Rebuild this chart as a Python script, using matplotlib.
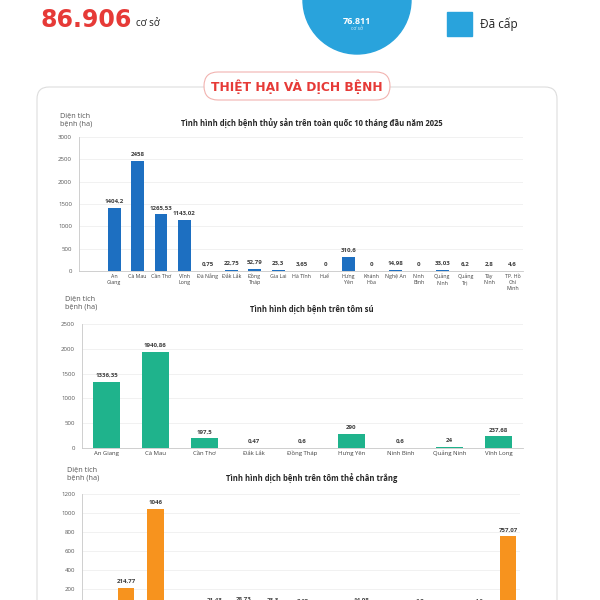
import matplotlib
matplotlib.use("Agg")
import matplotlib.pyplot as plt
from matplotlib import font_manager
from matplotlib.patches import Circle, FancyBboxPatch, Rectangle

plt.rcParams['font.family'] = ['Open Sans', 'DejaVu Sans']

# ---- data ----
total_coso = "86.906"
cap_coso = "76.811"

prov_all = ["An\nGiang", "Cà Mau", "Cần Thơ", "Vĩnh\nLong", "Đà Nẵng", "Đắk Lắk",
            "Đồng\nTháp", "Gia Lai", "Hà Tĩnh", "Huế", "Hưng\nYên", "Khánh\nHòa",
            "Nghệ An", "Ninh\nBình", "Quảng\nNinh", "Quảng\nTrị", "Tây\nNinh",
            "TP. Hồ\nChí\nMinh"]
val_all = [1404.2, 2458, 1265.53, 1143.02, 0.75, 22.75, 52.79, 23.3, 3.65, 0,
           310.6, 0, 14.98, 0, 33.03, 6.2, 2.8, 4.6]

prov_su = ["An Giang", "Cà Mau", "Cần Thơ", "Đắk Lắk", "Đồng Tháp", "Hưng Yên",
           "Ninh Bình", "Quảng Ninh", "Vĩnh Long"]
val_su = [1336.35, 1940.86, 197.5, 0.47, 0.6, 290, 0.6, 24, 237.68]

prov_the = ["An\nGiang", "Cà Mau", "Cần Thơ", "Đà\nNẵng", "Đắk\nLắk", "Đồng\nTháp",
            "Gia Lai", "Hà Tĩnh", "Khánh\nHòa", "Nghệ\nAn", "Quảng\nNinh", "Quảng\nTrị",
            "Tây\nNinh", "TP. Hồ\nChí Minh", "Vĩnh\nLong"]
val_the = [1.01, 214.77, 1046, 0.75, 21.43, 28.73, 23.3, 3.65, 0, 14.98, 0.03,
           6.2, 0.05, 4.6, 757.07]

# narrow font for the big number / header, if there is one
installed = {f.name for f in font_manager.fontManager.ttflist}
if 'Liberation Sans Narrow' in installed:
    narrow, big_size, head_size = ['Liberation Sans Narrow', 'DejaVu Sans'], 27, 10
else:
    narrow, big_size, head_size = ['DejaVu Sans'], 17, 8.8

W, H = 600, 600
fig = plt.figure(figsize=(6, 6), dpi=100)
fig.patch.set_facecolor('white')

# background layer in pixel coordinates
bg = fig.add_axes([0, 0, 1, 1])
bg.set_xlim(0, W)
bg.set_ylim(H, 0)
bg.axis('off')
bg.set_zorder(0)

red = '#e63a37'
sky = '#29a3dc'

bg.text(40, 27, total_coso, color=red, fontsize=big_size, fontweight='bold',
        family=narrow, ha='left', va='baseline')
bg.text(136, 26, "cơ sở", color='#222222', fontsize=7, ha='left', va='baseline')

bg.add_patch(Circle((357, 0), 54, color=sky, zorder=1))
bg.text(357, 21, cap_coso, color='white', fontsize=6.5, fontweight='bold',
        ha='center', va='center', zorder=2)
bg.text(357, 28, "cơ sở", color='#d8eef9', fontsize=3.5, ha='center', va='center', zorder=2)

bg.add_patch(Rectangle((447, 12), 25, 24, color=sky))
bg.text(480, 24, "Đã cấp", color='#222222', fontsize=8.5, ha='left', va='center')

# panel + header pill
bg.add_patch(FancyBboxPatch((37, 87), 520, 600, boxstyle='round,pad=0,rounding_size=12',
                            facecolor='white', edgecolor='#dddddd', linewidth=0.8))
bg.add_patch(FancyBboxPatch((204, 72), 186, 28, boxstyle='round,pad=0,rounding_size=14',
                            facecolor='white', edgecolor='#f2b3b0', linewidth=0.8))
bg.text(297, 87, "THIỆT HẠI VÀ DỊCH BỆNH", color=red, fontsize=head_size,
        fontweight='bold', ha='center', va='center', family=narrow)


def fmt(v):
    return f"{v:g}".replace('.', ',')


def bar_chart(l, t, r, b, cats, vals, color, ymax, ystep, xlim, title, title_y,
              ylab_xy, xfs=4.3, width=0.55):
    ax = fig.add_axes([l / W, 1 - b / H, (r - l) / W, (b - t) / H])
    ax.set_zorder(2)
    ax.patch.set_alpha(0)
    x = list(range(len(cats)))
    ax.bar(x, vals, width=width, color=color, zorder=3)
    for xi, v in zip(x, vals):
        ax.text(xi, v + ymax * 0.03, fmt(v), ha='center', va='bottom', fontsize=4.4,
                fontweight='bold', color='#404040', zorder=4)
    ax.set_ylim(0, ymax)
    ax.set_xlim(*xlim)
    ax.set_yticks(range(0, ymax + 1, ystep))
    ax.set_xticks(x)
    ax.set_xticklabels(cats, fontsize=xfs, color='#404040', linespacing=1.3)
    ax.tick_params(axis='y', labelsize=4.4, labelcolor='#595959', length=0, pad=5)
    ax.tick_params(axis='x', length=0, pad=2)
    ax.grid(axis='y', color='#ececec', linewidth=0.5, zorder=0)
    for s in ['top', 'right']:
        ax.spines[s].set_visible(False)
    for s in ['left', 'bottom']:
        ax.spines[s].set_color('#c8c8c8')
        ax.spines[s].set_linewidth(0.6)
    bg.text(312, title_y, title, fontsize=5.5, fontweight='bold', color='#262626',
            ha='center', va='center')
    bg.text(ylab_xy[0], ylab_xy[1], "Diện tích\nbệnh (ha)", fontsize=5.2, color='#555555',
            ha='left', va='top', linespacing=1.25)
    return ax


bar_chart(79, 137, 523, 271, prov_all, val_all, '#1d6fc1', 3000, 500, (-1.5, 17.45),
          "Tình hình dịch bệnh thủy sản trên toàn quốc 10 tháng đầu năm 2025", 124, (60, 112),
          xfs=3.8)

bar_chart(82, 324, 523, 448, prov_su, val_su, '#1fb38c', 2500, 500, (-0.5, 8.5),
          "Tình hình dịch bệnh trên tôm sú", 309, (65, 295))

bar_chart(82, 494, 520, 608, prov_the, val_the, '#f7931e', 1200, 200, (-0.5, 14.4),
          "Tình hình dịch bệnh trên tôm thẻ chân trắng", 479, (67, 466))

fig.savefig("out.png", dpi=100, facecolor='white')
